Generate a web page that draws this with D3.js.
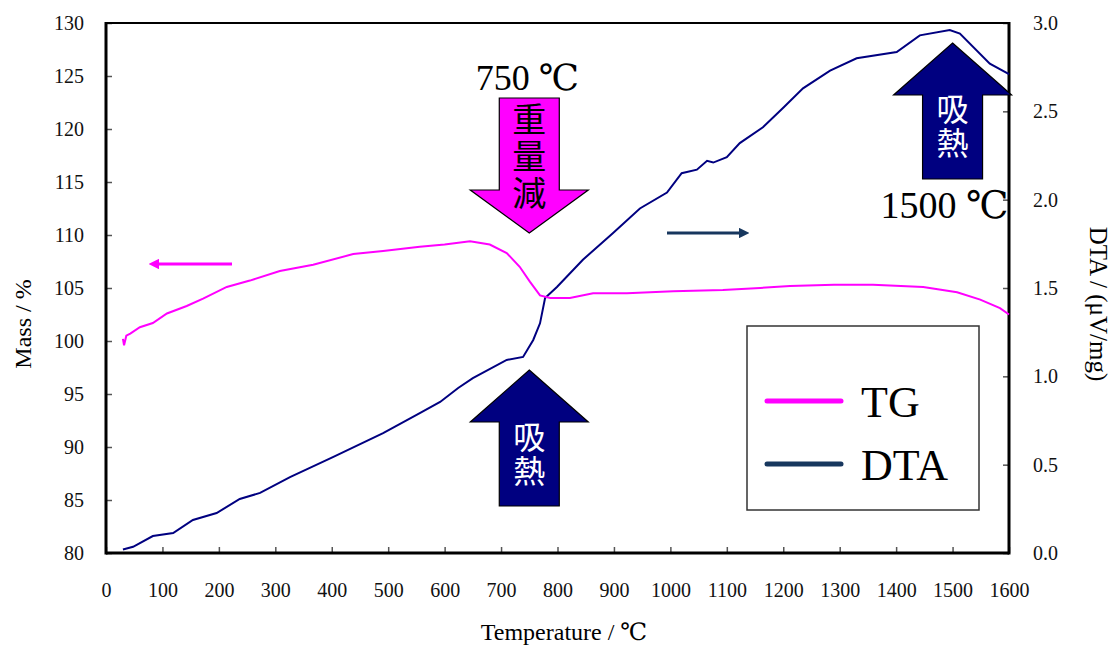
<!DOCTYPE html>
<html lang="ja">
<head>
<meta charset="utf-8">
<title>TG-DTA</title>
<script src="https://cdn.jsdelivr.net/npm/d3@7"></script>
<style>
  body { margin: 0; background: #fff; }
  svg text { font-family: "Liberation Serif", "DejaVu Serif", serif; }
  .cjk { font-family: "Noto Sans CJK JP", sans-serif !important; }
</style>
</head>
<body>
<div id="chart"></div>
<script>
// TG curve (temperature in C, mass in %)
var tgTemp = [30, 32, 36, 43, 60, 83, 108, 143, 172, 214, 255, 308, 367, 438, 491, 556, 600, 645, 680, 710, 733, 751, 769, 787, 822, 863, 923, 1005, 1093, 1159, 1212, 1290, 1359, 1448, 1508, 1549, 1584, 1600];
var tgMass = [100.2, 99.6, 100.5, 100.7, 101.3, 101.7, 102.6, 103.3, 104.0, 105.1, 105.7, 106.6, 107.2, 108.2, 108.5, 108.9, 109.1, 109.4, 109.1, 108.3, 107.0, 105.6, 104.3, 104.05, 104.05, 104.5, 104.5, 104.7, 104.8, 105.0, 105.2, 105.3, 105.3, 105.1, 104.6, 103.9, 103.1, 102.5];

// DTA curve (temperature in C, uV/mg)
var dtaTemp = [30, 48, 83, 119, 154, 196, 237, 273, 326, 402, 491, 556, 592, 624, 650, 710, 739, 757, 769, 778, 799, 845, 898, 946, 994, 1020, 1047, 1065, 1076, 1100, 1123, 1164, 1200, 1235, 1283, 1330, 1401, 1442, 1495, 1513, 1566, 1600];
var dtaVal = [0.02, 0.035, 0.096, 0.113, 0.187, 0.226, 0.306, 0.34, 0.43, 0.543, 0.679, 0.792, 0.855, 0.934, 0.99, 1.093, 1.11, 1.206, 1.30, 1.443, 1.506, 1.66, 1.81, 1.95, 2.04, 2.15, 2.17, 2.22, 2.21, 2.24, 2.32, 2.41, 2.52, 2.63, 2.73, 2.80, 2.836, 2.93, 2.96, 2.94, 2.77, 2.71];

var xTicks = d3.range(0, 1601, 100);
var massTicks = d3.range(80, 131, 5);
var dtaTicks = [0, 0.5, 1.0, 1.5, 2.0, 2.5, 3.0];

var W = 1114, H = 649;
var plotL = 106, plotR = 1009, plotT = 23, plotB = 553;

var svg = d3.select("#chart").append("svg")
    .attr("width", W)
    .attr("height", H);

var x = d3.scaleLinear().domain([0, 1600]).range([plotL, plotR]);
var yM = d3.scaleLinear().domain([80, 130]).range([plotB, plotT]);
var yD = d3.scaleLinear().domain([0, 3]).range([plotB, plotT]);

// ticks (inward)
svg.append("g").attr("transform", "translate(0," + plotB + ")")
    .call(d3.axisBottom(x).tickValues(xTicks).tickSize(-6).tickPadding(30).tickFormat(d3.format("d")))
    .call(function(g) { g.select(".domain").remove(); });
svg.append("g").attr("transform", "translate(" + plotL + ",0)")
    .call(d3.axisLeft(yM).tickValues(massTicks).tickSize(-6).tickPadding(22).tickFormat(d3.format("d")))
    .call(function(g) { g.select(".domain").remove(); });
svg.append("g").attr("transform", "translate(" + plotR + ",0)")
    .call(d3.axisRight(yD).tickValues(dtaTicks).tickSize(-6).tickPadding(24).tickFormat(d3.format(".1f")))
    .call(function(g) { g.select(".domain").remove(); });

svg.selectAll(".tick line").attr("stroke", "#555").attr("stroke-width", 1.5);
svg.selectAll(".tick text").attr("font-size", 20).attr("fill", "#111")
    .style("font-family", "'Liberation Serif', serif");

// frame
svg.append("line").attr("x1", plotL).attr("x2", plotR).attr("y1", plotT).attr("y2", plotT)
    .attr("stroke", "#000").attr("stroke-width", 2);
svg.append("line").attr("x1", plotL).attr("x2", plotR).attr("y1", plotB).attr("y2", plotB)
    .attr("stroke", "#000").attr("stroke-width", 3);
svg.append("line").attr("x1", plotL).attr("x2", plotL).attr("y1", plotT - 1).attr("y2", plotB + 1.5)
    .attr("stroke", "#000").attr("stroke-width", 3);
svg.append("line").attr("x1", plotR).attr("x2", plotR).attr("y1", plotT - 1).attr("y2", plotB + 1.5)
    .attr("stroke", "#000").attr("stroke-width", 3);

// curves
var tgLine = d3.line().x(function(d) { return x(d[0]); }).y(function(d) { return yM(d[1]); });
var dtaLine = d3.line().x(function(d) { return x(d[0]); }).y(function(d) { return yD(d[1]); });

svg.append("path").datum(d3.zip(dtaTemp, dtaVal))
    .attr("d", dtaLine).attr("fill", "none").attr("stroke", "#000080").attr("stroke-width", 2);
svg.append("path").datum(d3.zip(tgTemp, tgMass))
    .attr("d", tgLine).attr("fill", "none").attr("stroke", "#ff00ff").attr("stroke-width", 2);

// block arrows
function blockArrow(tipX, tipY, dir, shaftLen, headLen, fill) {
    var hw = 59, sw = 30;
    var s = dir; // 1 = pointing up, -1 = pointing down
    var pts = [
        [tipX, tipY],
        [tipX + hw, tipY + s * headLen],
        [tipX + sw, tipY + s * headLen],
        [tipX + sw, tipY + s * (headLen + shaftLen)],
        [tipX - sw, tipY + s * (headLen + shaftLen)],
        [tipX - sw, tipY + s * headLen],
        [tipX - hw, tipY + s * headLen]
    ];
    svg.append("polygon").attr("points", pts.map(function(p) { return p.join(","); }).join(" "))
        .attr("fill", fill).attr("stroke", "#000").attr("stroke-width", 1.2);
}

// vertical (tategaki) label, centred on cx, cy
function vtext(cx, cy, str, color, size, gap) {
    svg.append("text").attr("class", "cjk").attr("x", cx).attr("y", cy)
        .attr("writing-mode", "vertical-rl").attr("text-anchor", "middle")
        .attr("letter-spacing", gap)
        .attr("font-size", size).attr("fill", color).text(str);
}

// 750 weight loss arrow
blockArrow(x(750), 233, -1, 92, 43, "#ff00ff");
vtext(x(750), 158, "重量減", "#000", 34, 3);
svg.append("text").attr("x", x(750) - 2).attr("y", 90).attr("text-anchor", "middle")
    .attr("font-size", 36).attr("fill", "#000").text("750 ℃");

// 750 endotherm arrow
blockArrow(x(750), 370, 1, 84, 52, "#000080");
vtext(x(750), 455, "吸熱", "#fff", 32, 2);

// 1500 endotherm arrow
blockArrow(x(1500), 43, 1, 84, 52, "#000080");
vtext(x(1500), 127, "吸熱", "#fff", 32, 2);
svg.append("text").attr("x", x(1500) - 8).attr("y", 218).attr("text-anchor", "middle")
    .attr("font-size", 38).attr("fill", "#000").text("1500 ℃");

// axis pointers
svg.append("defs").selectAll("marker").data([["mHead", "#ff00ff"], ["dHead", "#17375e"]])
    .enter().append("marker")
    .attr("id", function(d) { return d[0]; })
    .attr("viewBox", "0 0 10 10").attr("refX", 2).attr("refY", 5)
    .attr("markerWidth", 3.5).attr("markerHeight", 3.5).attr("orient", "auto")
    .append("path").attr("d", "M0,0 L10,5 L0,10 Z").attr("fill", function(d) { return d[1]; });

svg.append("line").attr("x1", 232).attr("x2", 157).attr("y1", 264).attr("y2", 264)
    .attr("stroke", "#ff00ff").attr("stroke-width", 3).attr("marker-end", "url(#mHead)");
svg.append("line").attr("x1", 667).attr("x2", 741).attr("y1", 233).attr("y2", 233)
    .attr("stroke", "#17375e").attr("stroke-width", 3).attr("marker-end", "url(#dHead)");

// legend
var legend = svg.append("g");
legend.append("rect").attr("x", 747).attr("y", 326).attr("width", 232).attr("height", 184)
    .attr("fill", "#fff").attr("stroke", "#333").attr("stroke-width", 1.5);
var legItems = [["TG", "#ff00ff", 401, 417], ["DTA", "#17375e", 464, 480]];
legItems.forEach(function(d) {
    legend.append("line").attr("x1", 767).attr("x2", 841).attr("y1", d[2]).attr("y2", d[2])
        .attr("stroke", d[1]).attr("stroke-width", 5).attr("stroke-linecap", "round");
    legend.append("text").attr("x", 861).attr("y", d[3]).attr("font-size", 44).attr("fill", "#000").text(d[0]);
});

// axis titles
svg.append("text").attr("x", 564).attr("y", 640).attr("text-anchor", "middle")
    .attr("font-size", 24).attr("fill", "#000").text("Temperature / ℃");
svg.append("text").attr("transform", "translate(31,324) rotate(-90)").attr("text-anchor", "middle")
    .attr("font-size", 24).attr("fill", "#000").text("Mass / %");
svg.append("text").attr("transform", "translate(1090,304) rotate(90)").attr("text-anchor", "middle")
    .attr("font-size", 25).attr("fill", "#000").text("DTA / (μV/mg)");
</script>
</body>
</html>
